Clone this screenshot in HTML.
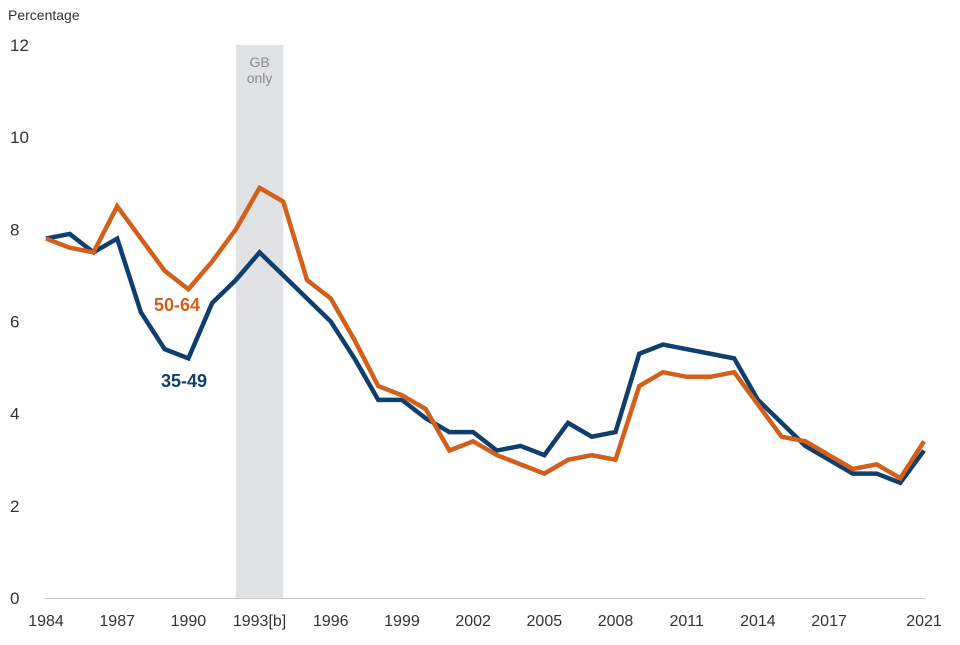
<!DOCTYPE html>
<html><head><meta charset="utf-8"><style>
body{margin:0;background:#fff;font-family:"Liberation Sans",Arial,sans-serif}
svg text{font-family:"Liberation Sans",Arial,sans-serif}
</style></head><body>
<svg id="chart" width="960" height="640" xmlns="http://www.w3.org/2000/svg">
<text x="8" y="20" font-size="14" fill="#333">Percentage</text>
<g id="band"></g><g id="yaxis"></g><g id="xaxis"></g><g id="series"></g>
</svg>
<script>
const years=[];for(let y=1984;y<=2021;y++)years.push(y);
const s3549=[7.8,7.9,7.5,7.8,6.2,5.4,5.2,6.4,6.9,7.5,7.0,6.5,6.0,5.2,4.3,4.3,3.9,3.6,3.6,3.2,3.3,3.1,3.8,3.5,3.6,5.3,5.5,5.4,5.3,5.2,4.3,3.8,3.3,3.0,2.7,2.7,2.5,3.2];
const s5064=[7.8,7.6,7.5,8.5,7.8,7.1,6.7,7.3,8.0,8.9,8.6,6.9,6.5,5.6,4.6,4.4,4.1,3.2,3.4,3.1,2.9,2.7,3.0,3.1,3.0,4.6,4.9,4.8,4.8,4.9,4.2,3.5,3.4,3.1,2.8,2.9,2.6,3.4];
const yTicks=[0,2,4,6,8,10,12];
const xTicks=[1984,1987,1990,1993,1996,1999,2002,2005,2008,2011,2014,2017,2021];
const xTickLabels=["1984","1987","1990","1993[b]","1996","1999","2002","2005","2008","2011","2014","2017","2021"];
const bandRange=[1992,1994];
const NS="http://www.w3.org/2000/svg";
const X=y=>46+(y-1984)*(924-46)/37;
const Y=v=>598-v*(598-45)/12;
function mk(t,a,p){const e=document.createElementNS(NS,t);for(const k in a)e.setAttribute(k,a[k]);p.appendChild(e);return e;}
const band=document.getElementById('band');
const r=mk('rect',{x:X(bandRange[0]),y:45,width:X(bandRange[1])-X(bandRange[0]),height:553,fill:'#e1e2e4'},band);


const bt=mk('text',{x:(X(bandRange[0])+X(bandRange[1]))/2,y:67,'font-size':'14','text-anchor':'middle',fill:'#8a8a8a'},band);


bt.innerHTML='<tspan x="'+((X(1992)+X(1994))/2)+'">GB</tspan><tspan x="'+((X(1992)+X(1994))/2)+'" dy="16">only</tspan>';
const ya=document.getElementById('yaxis');
yTicks.forEach(v=>{const t=mk('text',{x:10,y:Y(v)+6,'font-size':'17',fill:'#333'},ya);t.textContent=v;

});
const xa=document.getElementById('xaxis');
const ax=mk('line',{x1:45,x2:926,y1:598.5,y2:598.5,stroke:'#c8c8c8','stroke-width':1},xa);


xTicks.forEach((v,i)=>{const t=mk('text',{x:X(v),y:626,'font-size':'16','text-anchor':'middle',fill:'#333'},xa);t.textContent=xTickLabels[i];

});
const sg=document.getElementById('series');
function line(d,c,n){const p=mk('polyline',{points:d.map((v,i)=>X(years[i])+','+Y(v)).join(' '),fill:'none',stroke:c,'stroke-width':4.5,'stroke-linejoin':'miter'},sg);

}
line(s3549,'#0f3f6e','line-35-49');
line(s5064,'#d2601a','line-50-64');
const l1=mk('text',{x:177,y:311,'font-size':'18','font-weight':'bold','text-anchor':'middle',fill:'#d2601a'},sg);l1.textContent='50-64';


const l2=mk('text',{x:184,y:387,'font-size':'18','font-weight':'bold','text-anchor':'middle',fill:'#0f3f6e'},sg);l2.textContent='35-49';


</script>
</body></html>
